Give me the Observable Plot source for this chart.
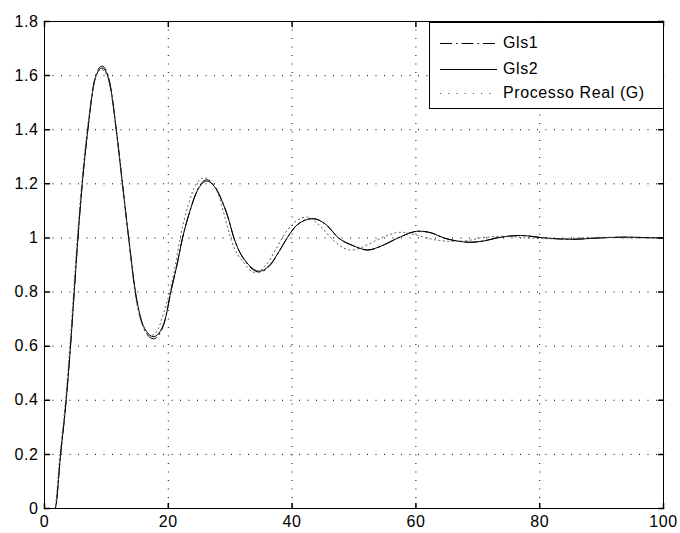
<!DOCTYPE html>
<html>
<head>
<meta charset="utf-8">
<script src="https://cdn.jsdelivr.net/npm/d3@7"></script>
<script src="https://cdn.jsdelivr.net/npm/@observablehq/plot@0.6"></script>
<style>
  html, body { margin: 0; padding: 0; background: #fff; }
  #wrap { position: relative; width: 680px; height: 533px; }
  #legend { position: absolute; left: 429px; top: 22px; width: 233px; height: 85px;
            border: 1px solid #000; background: #fff;
            font: 16px "Liberation Sans", Arial, Helvetica, sans-serif; letter-spacing: 0.6px; color: #000; }
  .row { position: absolute; left: 0; height: 20px; width: 233px; }
  .row svg { position: absolute; left: 10px; top: 0; }
  .row span { position: absolute; left: 73px; top: 1px; line-height: 18px; white-space: nowrap; }
</style>
</head>
<body>
<div id="wrap"></div>
<script>
// ---- data ----
const xTicks = [0, 20, 40, 60, 80, 100];
const xTickLabels = ["0", "20", "40", "60", "80", "100"];
const yTicks = [0, 0.2, 0.4, 0.6, 0.8, 1, 1.2, 1.4, 1.6, 1.8];
const yTickLabels = ["0", "0.2", "0.4", "0.6", "0.8", "1", "1.2", "1.4", "1.6", "1.8"];

const seriesNames = ["Gls1", "Gls2", "Processo Real (G)"];

// time samples shared by the two identified models
const tModel = [0, 1.7, 2.6, 3.5, 4.2, 4.8, 5.4, 6.1, 7.0, 8.0, 8.7, 9.3, 10.0, 10.6, 11.6, 12.6, 13.6,
  14.7, 15.6, 16.5, 17.6, 18.7, 19.5, 20.4, 21.4, 22.3, 23.5, 24.7, 26.2, 27.6, 28.6, 29.6, 30.6,
  32.9, 34.7, 36.5, 37.9, 39.2, 40.9, 43.3, 45.5, 47.5, 49.8, 52.2, 54.7, 57.1, 60.5, 62.6, 64.5,
  66.6, 68.8, 71.0, 73.1, 76.9, 80.8, 85.3, 89.5, 94.0, 97.5, 100];
const vGls1 = [0, 0, 0.2, 0.4, 0.6, 0.8, 1.0, 1.2, 1.4, 1.575, 1.624, 1.635, 1.618, 1.568, 1.4, 1.2, 1.0,
  0.795, 0.695, 0.646, 0.627, 0.65, 0.698, 0.8, 0.9, 1.0, 1.1, 1.178, 1.215, 1.188, 1.142, 1.08, 1.0,
  0.9, 0.874, 0.9, 0.95, 1.0, 1.05, 1.072, 1.049, 1.0, 0.972, 0.955, 0.973, 1.0, 1.025, 1.018, 1.0,
  0.989, 0.984, 0.989, 1.0, 1.009, 1.0, 0.995, 1.0, 1.003, 1.001, 1.0];
const vGls2 = [0, 0, 0.2, 0.4, 0.6, 0.8, 1.0, 1.2, 1.4, 1.57, 1.617, 1.628, 1.612, 1.565, 1.4, 1.2, 1.0,
  0.8, 0.7, 0.653, 0.635, 0.655, 0.7, 0.8, 0.9, 1.0, 1.1, 1.175, 1.21, 1.185, 1.14, 1.08, 1.0,
  0.903, 0.877, 0.903, 0.95, 1.0, 1.05, 1.071, 1.049, 1.0, 0.972, 0.956, 0.973, 1.0, 1.025, 1.018, 1.0,
  0.989, 0.984, 0.989, 1.0, 1.009, 1.0, 0.995, 1.0, 1.003, 1.001, 1.0];

// real process
const tReal = [0, 1.6, 2.5, 3.4, 4.1, 4.7, 5.3, 6.0, 6.9, 8.0, 8.6, 9.2, 10.0, 10.6, 11.6, 12.6, 13.6,
  14.6, 15.5, 16.4, 17.3, 18.3, 19.2, 20.1, 20.9, 22.0, 23.2, 24.4, 25.8, 27.2, 28.1, 29.1, 30.2,
  32.3, 34.0, 35.8, 37.3, 38.4, 40.0, 42.4, 44.9, 46.7, 49.6, 52.2, 54.4, 57.6, 59.9, 61.7, 64.0,
  66.2, 68.3, 70.5, 74.3, 78.0, 82.3, 86.5, 90.7, 95.0, 100];
const vReal = [0, 0, 0.2, 0.4, 0.6, 0.8, 1.0, 1.2, 1.4, 1.57, 1.612, 1.622, 1.605, 1.555, 1.39, 1.19, 0.99,
  0.8, 0.7, 0.658, 0.64, 0.66, 0.72, 0.79, 0.87, 1.01, 1.12, 1.195, 1.222, 1.2, 1.16, 1.08, 0.99,
  0.905, 0.872, 0.9, 0.955, 1.0, 1.05, 1.077, 1.035, 0.99, 0.955, 0.975, 1.0, 1.021, 1.012, 1.0, 0.99,
  0.987, 0.99, 1.0, 1.006, 1.0, 0.997, 1.0, 1.002, 1.0, 1.0];

const strokes = ["#000", "#000", "#555"];
const dashes = ["12,4,1.5,4", null, "1.2,3.3"];

// ---- build tables ----
const rowsGls1 = tModel.map((t, i) => ({t, v: vGls1[i]}));
const rowsGls2 = tModel.map((t, i) => ({t, v: vGls2[i]}));
const rowsReal = tReal.map((t, i) => ({t, v: vReal[i]}));
const seriesRows = [rowsGls1, rowsGls2, rowsReal];

const tickShape = { draw(ctx, l) { ctx.moveTo(0, 0); ctx.lineTo(0, -l); } };
const font = '"Liberation Sans", Arial, Helvetica, sans-serif';

const chart = Plot.plot({
  width: 680,
  height: 533,
  marginLeft: 44,
  marginRight: 17,
  marginTop: 21,
  marginBottom: 25,
  style: { fontSize: "16px", fontFamily: font, color: "#000", background: "#fff", letterSpacing: "0.6px" },
  x: { domain: [0, 100], ticks: xTicks, tickSize: 0, tickPadding: 7, label: null,
       tickFormat: d => xTickLabels[xTicks.indexOf(d)] },
  y: { domain: [0, 1.8], ticks: yTicks, tickSize: 0, tickPadding: 6, label: null,
       tickFormat: d => yTickLabels[yTicks.indexOf(d)] },
  marks: [
    Plot.ruleX(xTicks, { x: d => d, stroke: "#000", strokeDasharray: "1,7.5" }),
    Plot.ruleY(yTicks, { y: d => d, stroke: "#000", strokeDasharray: "1,7.5" }),
    ...seriesRows.map((rows, i) => Plot.line(rows, {
      x: "t", y: "v", curve: "monotone-x", stroke: strokes[i], strokeWidth: 1,
      strokeDasharray: dashes[i]
    })),
    // inward ticks on all four sides
    Plot.vector(xTicks, { x: d => d, y: () => 0, length: 5, rotate: 0, anchor: "start", shape: tickShape, stroke: "#000" }),
    Plot.vector(xTicks, { x: d => d, y: () => 1.8, length: 5, rotate: 180, anchor: "start", shape: tickShape, stroke: "#000" }),
    Plot.vector(yTicks, { x: () => 0, y: d => d, length: 5, rotate: 90, anchor: "start", shape: tickShape, stroke: "#000" }),
    Plot.vector(yTicks, { x: () => 100, y: d => d, length: 5, rotate: -90, anchor: "start", shape: tickShape, stroke: "#000" }),
    Plot.frame({ stroke: "#000", strokeWidth: 1 })
  ]
});

const wrap = document.getElementById("wrap");
wrap.appendChild(chart);

// ---- legend ----
const legend = document.createElement("div");
legend.id = "legend";
const rowTops = [10, 35.5, 60];
seriesNames.forEach((name, i) => {
  const row = document.createElement("div");
  row.className = "row";
  row.style.top = rowTops[i] + "px";
  const ns = "http://www.w3.org/2000/svg";
  const svg = document.createElementNS(ns, "svg");
  svg.setAttribute("width", "58");
  svg.setAttribute("height", "20");
  const ln = document.createElementNS(ns, "line");
  ln.setAttribute("x1", "0"); ln.setAttribute("x2", "57");
  ln.setAttribute("y1", "10.5"); ln.setAttribute("y2", "10.5");
  ln.setAttribute("stroke", strokes[i]);
  ln.setAttribute("stroke-width", "1");
  if (dashes[i]) ln.setAttribute("stroke-dasharray", i === 2 ? "1.2,7" : dashes[i]);
  svg.appendChild(ln);
  row.appendChild(svg);
  const span = document.createElement("span");
  span.textContent = name;
  row.appendChild(span);
  legend.appendChild(row);
});
wrap.appendChild(legend);
</script>
</body>
</html>
